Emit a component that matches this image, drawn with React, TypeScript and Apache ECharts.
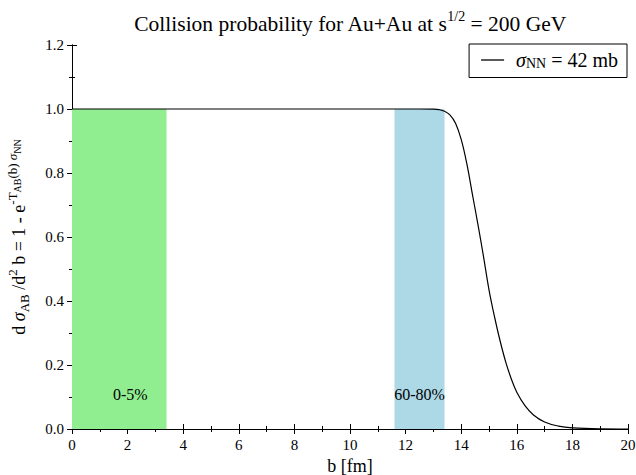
import React, { useEffect, useRef } from "react";
import * as echarts from "echarts";

const bValues = [0, 12.5, 13.0, 13.2, 13.4, 13.6, 13.8, 14.0, 14.2, 14.4, 14.6, 14.8, 15.0, 15.2, 15.4, 15.6, 15.8, 16.0, 16.3, 16.6, 17.0, 17.5, 18.0, 19.0, 20.0];
const probValues = [1, 1, 0.9995, 0.998, 0.993, 0.981, 0.955, 0.905, 0.83, 0.735, 0.64, 0.54, 0.435, 0.35, 0.275, 0.21, 0.157, 0.115, 0.072, 0.044, 0.022, 0.009, 0.0035, 0.0005, 0];
const bandNames = ["0-5%", "60-80%"];
const bandStart = [0, 11.6];
const bandEnd = [3.4, 13.4];
const bandTop = [1, 1];
const bandColors = ["#90EE90", "#ADD8E6"];
const bandLabelOffsetX = [11, 0];
const xTicks = { min: 0, max: 20, interval: 2 };
const yTicks = { min: 0, max: 1.2, interval: 0.2 };

const FONT = "Liberation Serif";

export default function App() {
  const ref = useRef<HTMLDivElement>(null);
  useEffect(() => {
    if (!ref.current) return;
    const chart = echarts.init(ref.current, null, { renderer: "svg" });
    const axisLine = { show: true, lineStyle: { color: "#000", width: 1 } };
    const baseX = {
      type: "value" as const,
      min: xTicks.min,
      max: xTicks.max,
      interval: xTicks.interval,
      axisLine,
      axisTick: { show: true, inside: true, length: 5, lineStyle: { color: "#000" } },
      minorTick: { show: true, splitNumber: 2, length: 3, lineStyle: { color: "#000" } },
      splitLine: { show: false },
    };
    const baseY = {
      type: "value" as const,
      min: yTicks.min,
      max: yTicks.max,
      interval: yTicks.interval,
      axisLine,
      axisTick: { show: true, inside: true, length: 5, lineStyle: { color: "#000" } },
      minorTick: { show: true, splitNumber: 2, length: 3, lineStyle: { color: "#000" } },
      splitLine: { show: false },
    };
    const sub = { fontFamily: FONT, fontSize: 13, lineHeight: 13, verticalAlign: "bottom", padding: [0, 0, 3, 0], color: "#000" };
    const sup = { fontFamily: FONT, fontSize: 13, lineHeight: 13, verticalAlign: "top", padding: [2, 0, 0, 0], color: "#000" };
    const m = { fontFamily: FONT, fontSize: 18, lineHeight: 30, color: "#000" };
    const tickLabel = { fontFamily: FONT, fontSize: 15, color: "#000", margin: 8 };
    const option = {
      animation: false,
      backgroundColor: "#fff",
      textStyle: { fontFamily: FONT, color: "#000" },
      title: {
        text: "{t|Collision probability for Au+Au at s}{sup|1/2}{t| = 200 GeV}",
        left: 350,
        textAlign: "center",
        top: 9,
        padding: 0,
        textStyle: {
          fontWeight: "normal",
          fontFamily: FONT,
          rich: {
            t: { fontFamily: FONT, fontWeight: "normal", fontSize: 21.5, lineHeight: 30, color: "#000" },
            sup: { fontFamily: FONT, fontWeight: "normal", fontSize: 14, lineHeight: 14, verticalAlign: "top", padding: [0, 0, 0, 0], color: "#000" },
          },
        },
      },
      legend: {
        right: 9,
        top: 44,
        orient: "vertical",
        borderColor: "#000",
        borderWidth: 1,
        borderRadius: 0,
        padding: [6, 9, 6, 12],
        itemWidth: 23,
        itemHeight: 1.3,
        data: [{ name: "main", icon: "rect" }],
        formatter: () => "{s|σ}{sub|NN}{t| = 42 mb}",
        textStyle: {
          fontFamily: FONT,
          rich: {
            s: { fontFamily: FONT, fontStyle: "italic", fontSize: 20, lineHeight: 23, padding: [0, 0, 0, 7], color: "#000" },
            sub: { fontFamily: FONT, fontSize: 14, lineHeight: 14, verticalAlign: "bottom", padding: [0, 0, 1, 0], color: "#000" },
            t: { fontFamily: FONT, fontSize: 20, lineHeight: 23, color: "#000" },
          },
        },
      },
      grid: { left: 72, right: 8, top: 45, bottom: 46, outerBoundsMode: "none", containLabel: false },
      xAxis: [
        {
          ...baseX,
          position: "bottom",
          name: "b [fm]",
          nameLocation: "middle",
          nameGap: 26,
          nameTextStyle: { fontFamily: FONT, fontSize: 18, lineHeight: 18, color: "#000" },
          axisLabel: tickLabel,
        },
        { ...baseX, position: "top", axisLabel: { show: false } },
      ],
      yAxis: [
        {
          ...baseY,
          position: "left",
          name: "{m|d }{ms|σ}{sub|AB}{m| /d}{sup|2}{m| b = 1 - e}{sup|-T}{ssub|AB}{sup|(b) }{sups|σ}{ssub|NN}",
          nameLocation: "middle",
          nameRotate: 90,
          nameGap: 32,
          nameTextStyle: {
            fontFamily: FONT,
            rich: {
              m,
              ms: { ...m, fontStyle: "italic" },
              sub,
              sup,
              sups: { ...sup, fontStyle: "italic" },
              ssub: { fontFamily: FONT, fontSize: 10, lineHeight: 10, verticalAlign: "top", padding: [8, 0, 0, 0], color: "#000" },
            },
          },
          axisLabel: { ...tickLabel, formatter: (v: number) => v.toFixed(1) },
        },
        { ...baseY, position: "right", axisLabel: { show: false } },
      ],
      series: [
        {
          type: "line",
          name: "bands",
          data: [],
          z: 1,
          markArea: {
            silent: true,
            data: bandNames.map((n, i) => [
              {
                name: n,
                xAxis: bandStart[i],
                yAxis: 0,
                itemStyle: { color: bandColors[i], opacity: 1 },
                label: {
                  show: true,
                  position: "insideBottom",
                  distance: 27,
                  offset: [bandLabelOffsetX[i], 0],
                  fontFamily: FONT,
                  fontSize: 16,
                  color: "#000",
                },
              },
              { xAxis: bandEnd[i], yAxis: bandTop[i] },
            ]),
          },
        },
        {
          type: "line",
          name: "main",
          z: 5,
          smooth: 0.4,
          symbol: "none",
          lineStyle: { color: "#000", width: 1.2 },
          itemStyle: { color: "#000" },
          data: bValues.map((b, i) => [b, probValues[i]]),
        },
      ],
    };
    chart.setOption(option as any);
    return () => chart.dispose();
  }, []);
  return <div ref={ref} style={{ position: "fixed", left: 0, top: 0, width: 636, height: 475 }} />;
}
